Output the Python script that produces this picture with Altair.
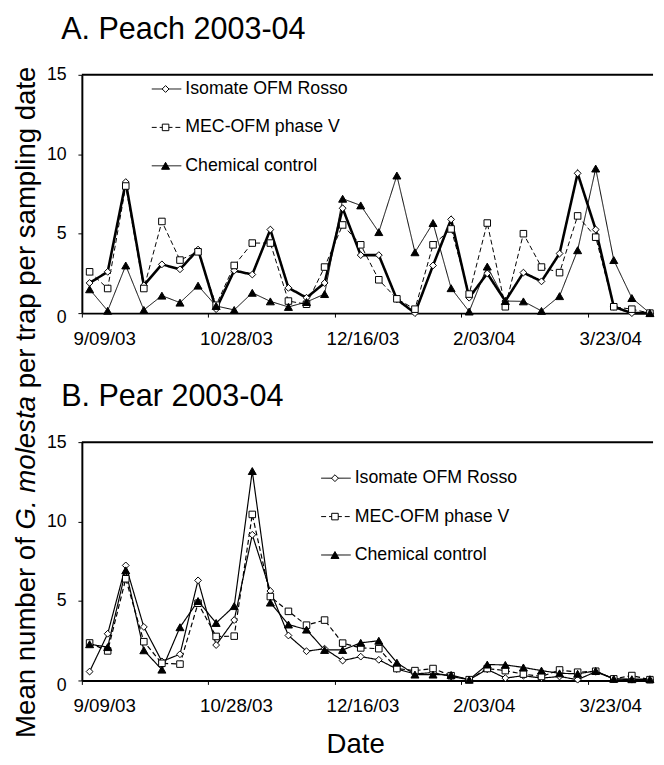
import altair as alt
import pandas as pd

# ---------------- data ----------------
dates = [
    "2003-09-12", "2003-09-19", "2003-09-26", "2003-10-03", "2003-10-10", "2003-10-17",
    "2003-10-24", "2003-10-31", "2003-11-07", "2003-11-14", "2003-11-21", "2003-11-28",
    "2003-12-05", "2003-12-12", "2003-12-19", "2003-12-26", "2004-01-02", "2004-01-09",
    "2004-01-16", "2004-01-23", "2004-01-30", "2004-02-06", "2004-02-13", "2004-02-20",
    "2004-02-27", "2004-03-05", "2004-03-12", "2004-03-19", "2004-03-26", "2004-04-02",
    "2004-04-09", "2004-04-16",
]

series_names = ["Isomate OFM Rosso", "MEC-OFM phase V", "Chemical control"]

peach_isomate = [1.9, 2.6, 8.25, 1.75, 3.07, 2.76, 4.0, 0.25, 2.68, 2.43, 5.26, 1.59, 0.97, 1.9,
                 6.6, 3.65, 3.65, 0.87, 0.0, 3.0, 5.9, 0.97, 2.5, 0.76, 2.55, 2.0, 3.75, 8.8,
                 5.26, 0.4, 0.0, 0.0]
peach_mec = [2.6, 1.55, 8.0, 1.55, 5.77, 3.34, 3.86, 0.5, 3.0, 4.41, 4.41, 0.76, 0.56, 2.9,
             5.55, 4.3, 2.1, 0.9, 0.25, 4.3, 5.3, 1.2, 5.67, 0.4, 5.0, 2.9, 2.55, 6.12, 4.78,
             0.4, 0.25, 0.0]
peach_chem = [1.5, 0.15, 3.0, 0.2, 1.1, 0.66, 1.73, 0.45, 0.2, 1.28, 0.74, 0.39, 0.7, 1.2,
              7.2, 6.78, 5.1, 8.66, 3.83, 5.67, 1.57, 0.1, 2.93, 0.76, 0.74, 0.14, 1.07, 3.96,
              9.1, 3.34, 0.95, 0.0]

pear_isomate = [0.56, 2.94, 7.24, 3.37, 1.2, 1.65, 6.3, 2.23, 3.8, 9.17, 5.63, 2.83, 1.84, 2.0,
                1.25, 1.5, 1.3, 0.72, 0.41, 0.5, 0.25, 0.05, 0.7, 0.15, 0.3, 0.15, 0.25, 0.05,
                0.55, 0.1, 0.05, 0.05]
pear_mec = [2.36, 1.86, 6.4, 2.44, 1.08, 1.03, 4.86, 2.77, 2.79, 10.45, 5.28, 4.35, 3.48, 3.8,
            2.35, 2.05, 2.0, 0.75, 0.62, 0.75, 0.3, 0.05, 0.75, 0.62, 0.4, 0.25, 0.66, 0.52,
            0.58, 0.1, 0.31, 0.05]
pear_chem = [2.28, 2.1, 6.93, 1.9, 0.68, 3.35, 5.0, 3.62, 4.68, 13.18, 4.9, 3.52, 3.2, 1.92,
             1.92, 2.37, 2.5, 1.12, 0.37, 0.37, 0.35, 0.05, 1.0, 0.98, 0.82, 0.62, 0.45, 0.42,
             0.6, 0.1, 0.08, 0.08]

x_tick_dates = [(2003, 9, 9), (2003, 10, 28), (2003, 12, 16), (2004, 2, 3), (2004, 3, 23)]
y_ticks = [0, 5, 10, 15]

# ---------------- style ----------------
FONT = "Liberation Sans, Arial, Helvetica, sans-serif"
W, H = 580, 242

x_enc = alt.X(
    "date:T",
    scale=alt.Scale(domain=[alt.DateTime(year=2003, month=9, date=9),
                            alt.DateTime(year=2004, month=4, date=17, hours=5)]),
    axis=alt.Axis(
        values=[alt.DateTime(year=a, month=b, date=c) for a, b, c in x_tick_dates],
        format="%-m/%d/%y", title=None, grid=False,
        labelFontSize=19, labelAlign="left", labelBaseline="top", labelOffset=-9,
        labelPadding=13, tickSize=4, domainWidth=2, labelFlush=False,
    ),
)
y_enc = alt.Y(
    "value:Q",
    scale=alt.Scale(domain=[0, 15], nice=False),
    axis=alt.Axis(values=y_ticks, title=None, grid=False, labelFontSize=18,
                  labelPadding=12, tickSize=4, domainWidth=2,
                  labelOffset={"condition": {"test": "datum.value == 0", "value": 5},
                               "value": 0}),
)

styles = [
    dict(shape="diamond", fill="white", size=48, dash=[1, 0]),
    dict(shape="square", fill="white", size=44, dash=[5, 3]),
    dict(shape="triangle-up", fill="black", size=66, dash=[1, 0]),
]


def one(**kw):
    return pd.DataFrame({k: [v] for k, v in kw.items()})


def text_layer(txt, x, y, size, align="left", baseline="alphabetic", angle=0, style="normal"):
    return alt.Chart(one(t=txt)).mark_text(
        align=align, baseline=baseline, fontSize=size, font=FONT, angle=angle,
        fontStyle=style, color="black",
    ).encode(text="t:N", x=alt.value(x), y=alt.value(y))


def panel(title, values, widths, leg_x, leg_y, extra=()):
    layers = []
    # top frame line
    layers.append(alt.Chart(one(a=0)).mark_rule(color="black", strokeWidth=2).encode(
        x=alt.value(0), x2=alt.value(W), y=alt.value(0)))
    frames = []
    for name, vals in zip(series_names, values):
        frames.append(pd.DataFrame({"date": [d + "T00:00:00" for d in dates],
                                    "value": vals, "series": name}))
    for df, st, w in zip(frames, styles, widths):
        layers.append(alt.Chart(df).mark_line(color="black", strokeWidth=w,
                                               strokeDash=st["dash"]).encode(x=x_enc, y=y_enc))
    for df, st in zip(frames, styles):
        layers.append(alt.Chart(df).mark_point(
            shape=st["shape"], filled=True, fill=st["fill"], stroke="black",
            strokeWidth=1, size=st["size"], opacity=1).encode(x=x_enc, y=y_enc))
    # legend
    for i, (name, st) in enumerate(zip(series_names, styles)):
        yy = leg_y + 39 * i
        layers.append(alt.Chart(one(a=0)).mark_rule(color="black", strokeWidth=1,
                                                      strokeDash=st["dash"]).encode(
            x=alt.value(leg_x), x2=alt.value(leg_x + 30), y=alt.value(yy)))
        layers.append(alt.Chart(one(a=0)).mark_point(
            shape=st["shape"], filled=True, fill=st["fill"], stroke="black",
            strokeWidth=1, size=st["size"], opacity=1).encode(
            x=alt.value(leg_x + 14), y=alt.value(yy)))
        layers.append(text_layer(name, leg_x + 34, yy, 18, baseline="middle"))
    layers.append(text_layer(title, -21, -36.5, 31))
    layers.extend(extra)
    return alt.layer(*layers).properties(width=W, height=H)


# shared y title (Mean number of G. molesta per trap per sampling date) + x title
yt_x = -48
extra_b = [
    text_layer("Mean number of", yt_x, 300.3, 28, angle=270),
    text_layer("G. molesta", yt_x, 88.6, 28, angle=270, style="italic"),
    text_layer("per trap per sampling date", yt_x, -54.6, 28, angle=270),
    text_layer("Date", 278, 316, 28, align="center"),
]

pA = panel("A. Peach 2003-04", [peach_isomate, peach_mec, peach_chem], [2.6, 1.0, 1.0], 71, 14.4)
pB = panel("B. Pear 2003-04", [pear_isomate, pear_mec, pear_chem], [1.2, 1.2, 1.2], 243, 36.6,
           extra_b)

chart = alt.VConcatChart(vconcat=[pA, pB], spacing=131, bounds="flush").properties(
    padding={"left": 4, "top": 0, "right": 0, "bottom": 0}
).configure_view(stroke=None).configure_axis(
    labelFont=FONT, labelColor="black", domainColor="black", tickColor="black",
)

chart.save("out.html", embed_options={"renderer": "svg", "actions": False})
